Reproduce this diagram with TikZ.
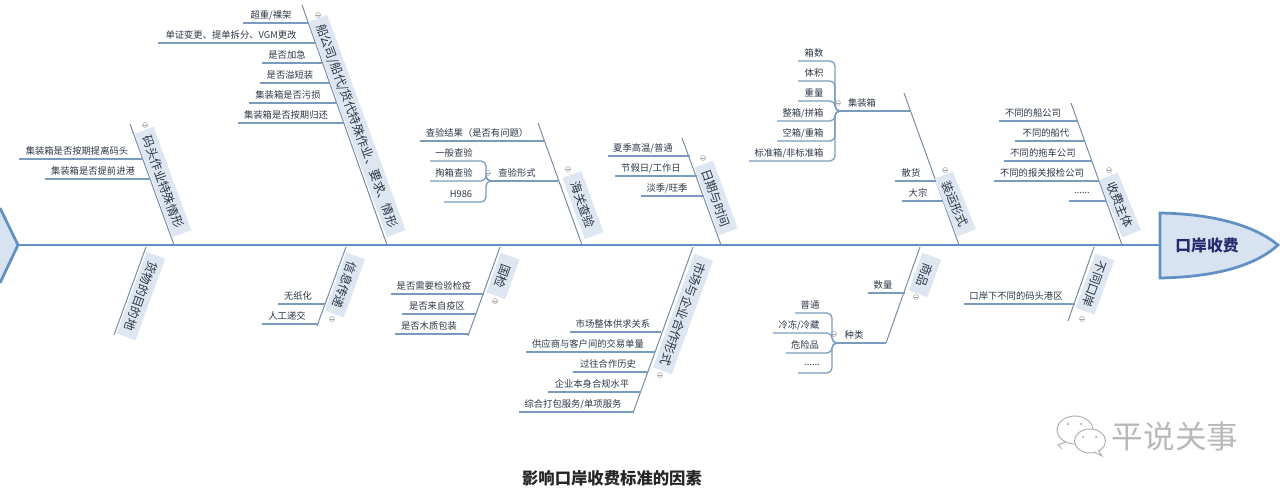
\documentclass[tikz,border=0pt]{standalone}
\usepackage{fontspec}
\setmainfont{Noto Sans CJK SC}
\usetikzlibrary{positioning}
\definecolor{spineblue}{RGB}{98, 144, 194}
\definecolor{headfill}{RGB}{216, 227, 241}
\definecolor{boxfill}{RGB}{221, 230, 241}
\definecolor{boneline}{RGB}{120, 140, 165}
\definecolor{twigblue}{RGB}{120, 155, 190}
\definecolor{inkdark}{RGB}{45, 55, 70}
\tikzset{
  spine/.style={line width=0.55mm, spineblue},
  bone/.style={line width=0.2mm, boneline},
  twig/.style={line width=0.25mm, twigblue},
  bonebox/.style={fill=boxfill, text=inkdark, inner sep=0pt, minimum height=4mm,
    font=\fontsize{6.9}{8}\selectfont},
  leaf/.style={text=inkdark, inner sep=0pt, font=\fontsize{5.3}{7}\selectfont},
  fold/.style={circle, draw=gray!70, fill=white, line width=0.1mm, inner sep=0pt, minimum size=1mm,
    path picture={\draw[gray!70, line width=0.08mm] (path picture bounding box.west) -- (path picture bounding box.east);}},
  bubble/.style={draw=gray!60, fill=white, line width=0.2mm}
}

\begin{document}
\begin{tikzpicture}[x=0.2mm, y=-0.2mm]
  \useasboundingbox (0,0) rectangle (1280,493);

  % ===== 鱼尾、鱼头与主干 =====
  \fill[headfill] (0,208) -- (18,245) -- (0,283) -- cycle;
  \draw[spine] (0,208) -- (18,245) -- (0,283);
  \draw[spine, fill=headfill]
    (1160,213) -- (1160,278) .. controls (1215,277) and (1255,266) .. (1278,245)
    .. controls (1255,226) and (1215,214) .. (1160,213) -- cycle;
  \node[text=inkdark!80!blue, font=\fontsize{9}{11}\selectfont\bfseries] (head) at (1207,246) {口岸收费};
  \coordinate (tail) at (18,245);
  \coordinate (neck) at (1160,245);
  \draw[spine] (tail) -- (neck);

  % ===== 大骨：起点x/y，终点x/y，标签中心，长度，角度，文字 =====
  \foreach \ax/\ay/\bx/\by/\cx/\cy/\len/\rot/\txt [count=\i] in {
      130/124/174/245/163/182/110/-70/{码头作业特殊情形},
      302/5/387/245/357/126/229/-70/{船公司/船代/货代特殊作业、要求、情形},
      538/123/582/245/583/205/65/-70/{海关查验},
      682/138/721/245/716/198/72/-70/{日期与时间},
      904/93/959/245/955/204/62/-68/{装运形式},
      1071/103/1122/245/1120/205/62/-68/{收费主体},
      146/247/114/335/141/296/87/-110/{货物的目的地},
      346/247/317/326/345/285/62/-110/{信息传递},
      500/247/468/336/503/276/42/-110/{国检},
      693/247/633/413/683/314/121/-110/{市场与企业合作形式},
      920/247/886/343/925/275/40/-110/{商品},
      1094/247/1068/321/1095/284/58/-110/{不同口岸}} {
    \coordinate (bonea\i) at (\ax,\ay);
    \coordinate (boneb\i) at (\bx,\by);
    \draw[bone] (bonea\i) -- (boneb\i);
    \node[bonebox, rotate=\rot, minimum width={\len*0.2mm}] (box\i) at (\cx,\cy) {\txt};
  }

  % 折叠标记
  \foreach \fx/\fy [count=\i] in {145/125, 318/15, 568/169, 703/158, 945/170, 1109/170,
      332/319, 495/301, 660/375, 916/297, 1082/319, 488/173, 838/103, 834/334} {
    \node[fold] (fold\i) at (\fx,\fy) {};
  }

  % ===== 小枝：左端x，右端x，y，文字中心x，文字 =====
  \foreach \lx/\rx/\ly/\tx/\txt [count=\i] in {
      19/143/159/77/{集装箱是否按期提离码头},
      45/150/179/93/{集装箱是否提前进港},
      243/308/23/271/{超重/裸架},
      158/315/43/231/{单证变更、提单拆分、VGM更改},
      262/322/63/287/{是否加急},
      260/330/83/290/{是否溢短装},
      249/337/103/288/{集装箱是否污损},
      238/344/123/286/{集装箱是否按期归还},
      420/545/141/477/{查验结果（是否有问题）},
      490/558/181/517/{查验形式},
      608/690/156/643/{夏季高温/普通},
      615/697/176/651/{节假日/工作日},
      641/704/196/667/{淡季/旺季},
      842/910/111/862/{集装箱},
      895/936/181/911/{散货},
      902/943/201/918/{大宗},
      999/1077/121/1033/{不同的船公司},
      1015/1085/141/1046/{不同的船代},
      1004/1092/161/1043/{不同的拖车公司},
      994/1099/181/1042/{不同的报关报检公司},
      1069/1106/201/1082/{......},
      278/325/304/298/{无纸化},
      262/318/324/287/{人工递交},
      391/484/294/434/{是否需要检验检疫},
      402/476/314/437/{是否来自疫区},
      395/469/334/429/{是否木质包装},
      570/661/332/613/{市场整体供求关系},
      526/655/352/588/{供应商与客户间的交易单量},
      573/648/372/608/{过往合作历史},
      548/641/392/592/{企业本身合规水平},
      519/634/412/573/{综合打包服务/单项服务},
      868/905/293/883/{数量},
      839/886/343/854/{种类},
      964/1075/304/1016/{口岸下不同的码头港区}} {
    \coordinate (twigl\i) at (\lx,\ly);
    \coordinate (twigr\i) at (\rx,\ly);
    \draw[twig] (twigl\i) -- (twigr\i);
    \node[leaf] (leaf\i) at (\tx,{\ly-8}) {\txt};
  }

  % ===== 二级分支 =====
  \coordinate (hubcheck) at (490,181);
  \coordinate (hubbox) at (842,111);
  \coordinate (hubkind) at (839,343);
  \foreach \lx/\rx/\ly/\tx/\hub/\txt [count=\i] in {
      430/486/161/454/hubcheck/{一般查验},
      430/486/181/454/hubcheck/{掏箱查验},
      444/486/202/461/hubcheck/{H986},
      798/835/61/814/hubbox/{箱数},
      798/835/81/814/hubbox/{体积},
      798/835/101/814/hubbox/{重量},
      777/835/121/803/hubbox/{整箱/拼箱},
      777/835/141/803/hubbox/{空箱/重箱},
      749/835/161/789/hubbox/{标准箱/非标准箱},
      795/832/313/810/hubkind/{普通},
      773/832/333/799/hubkind/{冷冻/冷藏},
      786/832/353/805/hubkind/{危险品},
      798/832/373/812/hubkind/{......}} {
    \coordinate (subl\i) at (\lx,\ly);
    \coordinate (subr\i) at (\rx,\ly);
    \draw[twig, rounded corners=1mm] (subl\i) -- (subr\i) |- (\hub);
    \node[leaf] (sub\i) at (\tx,{\ly-8}) {\txt};
  }

  % ===== 水印 =====
  \draw[bubble] (1062,449) -- (1058,445) -- (1068,441);
  \draw[bubble] (1075,430) ellipse (3.6mm and 2.8mm);
  \draw[bubble] (1090,441) ellipse (3.1mm and 2.4mm);
  \draw[bubble] (1098,450) -- (1102,456) -- (1094,452);
  \foreach \ex/\ey in {1068/424, 1081/424, 1083/437, 1096/437} {
    \fill[gray!60] (\ex,\ey) circle (0.25mm);
  }
  \node[text=gray!55, font=\fontsize{18}{20}\selectfont] (mark) at (1175,437) {平说关事};

  % ===== 标题 =====
  \node[text=black!85, font=\fontsize{9.3}{11}\selectfont\bfseries] (title) at (612,478) {影响口岸收费标准的因素};

\end{tikzpicture}
\end{document}
